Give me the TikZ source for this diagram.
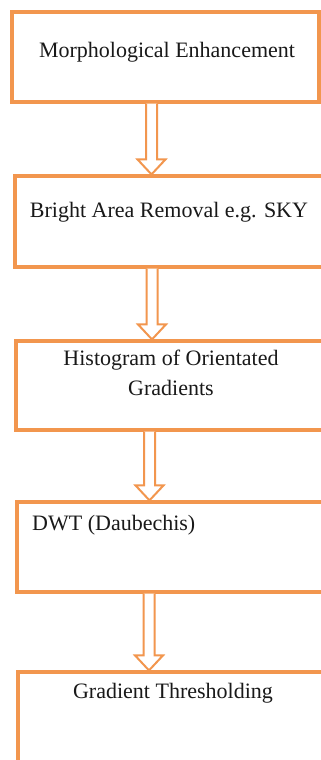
\documentclass[tikz,border=0pt]{standalone}
\usepackage{fontspec}
\setmainfont{Liberation Serif}
\usetikzlibrary{calc}
\definecolor{boxorange}{RGB}{242,150,78}
\tikzset{
  box/.style={draw=boxorange, line width=3.2pt, fill=white, rectangle, inner sep=0pt},
  lbl/.style={font=\fontsize{22}{30}\selectfont, text=black!90, inner sep=0pt, align=center},
  blockarr/.style={draw=boxorange, line width=2pt, fill=white, line join=miter},
}
\newcommand\flowarrow[3]{%
  \path (#1.south -| #3) coordinate (fs) (#2.north -| #3) coordinate (fe);
  \draw[blockarr] ($(fs)+(-5.5,0)$) -- ($(fe)+(-5.5,-15)$) -- ($(fe)+(-14,-15)$) -- (fe)
    -- ($(fe)+(14,-15)$) -- ($(fe)+(5.5,-15)$) -- ($(fs)+(5.5,0)$);
}
\begin{document}
\begin{tikzpicture}[x=1pt,y=-1pt]
\useasboundingbox (0,0) rectangle (321,760);
\clip (0,0) rectangle (321,760);
\fill[white] (0,0) rectangle (321,760);
\node[box, minimum width=307pt, minimum height=90pt] (b1) at (165.5,57) {};
\node[box, minimum width=315pt, minimum height=91pt] (b2) at (172.5,221.5) {};
\node[box, minimum width=314pt, minimum height=89pt] (b3) at (173,385.5) {};
\node[box, minimum width=313pt, minimum height=90pt] (b4) at (173.5,547) {};
\node[box, minimum width=312pt, minimum height=110pt] (b5) at (174,727) {};
\coordinate (a1) at (151.5,0);
\coordinate (a2) at (152,0);
\coordinate (a3) at (149.5,0);
\coordinate (a4) at (149,0);
\flowarrow{b1}{b2}{a1}
\flowarrow{b2}{b3}{a2}
\flowarrow{b3}{b4}{a3}
\flowarrow{b4}{b5}{a4}
\node[lbl] (t1) at (167,52) {Morphological Enhancement};
\node[lbl] (t2) at (169,212) {Bright Area Removal e.g. SKY};
\node[lbl] (t3) at (171,373) {Histogram of Orientated\\Gradients};
\node[lbl, anchor=west] (t4) at (32,525) {DWT (Daubechis)};
\node[lbl] (t5) at (173,693) {Gradient Thresholding};
\end{tikzpicture}
\end{document}
